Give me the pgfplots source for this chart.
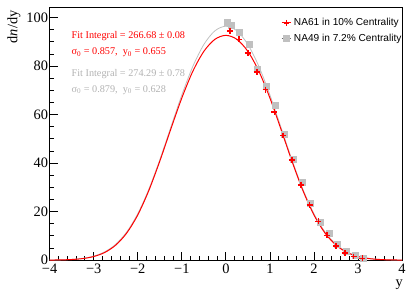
\documentclass[border=0pt]{standalone}
\usepackage{pgfplots}
\pgfplotsset{compat=1.18}
\usepackage{fontspec}
\setmainfont{Liberation Serif}
\newfontfamily\legfont{Liberation Sans}
\definecolor{rootred}{RGB}{255,0,0}
\definecolor{rootgray}{RGB}{192,192,192}
\definecolor{txtgray}{RGB}{178,178,178}
\begin{document}
\begin{tikzpicture}
\begin{axis}[
  scale only axis, width=355pt, height=254pt,
  xmin=-4, xmax=4, ymin=0, ymax=104,
  xtick={-4,-3,-2,-1,0,1,2,3,4},
  xticklabels={−4,−3,−2,−1,0,1,2,3,4},
  minor x tick num=4,
  ytick={0,20,40,60,80,100},
  yticklabels={0,20,40,60,80,100},
  minor y tick num=3,
  tick align=inside,
  xtick pos=lower, ytick pos=left,
  major tick length=8pt, minor tick length=4pt,
  tick style={black, line width=0.8pt},
  axis line style={line width=1pt},
  ticklabel style={font=\fontsize{14.5}{17}\selectfont},
  yticklabel style={inner xsep=1.5pt},
  legend style={at={(rel axis cs:0.656,0.967)}, anchor=north west, draw=none, fill=none,
    font=\legfont\fontsize{10.2}{12}\selectfont, row sep=3pt, inner sep=0pt},
  legend cell align=left,
  legend image code/.code={\draw[mark repeat=2,mark phase=2,#1] plot coordinates {(0pt,0pt)(5pt,0pt)(10pt,0pt)};},
]
\addplot[rootgray, line width=0.8pt, smooth, forget plot] coordinates {
(-4,0.040) (-3.75,0.113) (-3.5,0.299) (-3.25,0.728) (-3,1.64) (-2.75,3.42) (-2.5,6.55) (-2.25,11.63) (-2,19.13) (-1.75,29.17) (-1.5,41.38) (-1.25,54.81) (-1,68.11) (-0.75,79.87) (-0.5,88.92) (-0.25,94.55) (0,96.45) (0.25,94.55) (0.5,88.92) (0.75,79.87) (1,68.11) (1.25,54.81) (1.5,41.38) (1.75,29.17) (2,19.13) (2.25,11.63) (2.5,6.55) (2.75,3.42) (3,1.64) (3.25,0.728) (3.5,0.299) (3.75,0.113) (4,0.040)};
\addplot[rootgray, only marks, mark=square*, mark size=3pt, mark options={draw=rootgray, fill=rootgray, line width=0pt}, forget plot] coordinates {
(0.03,98.1) (0.13,96.7) (0.32,93.7) (0.53,88.8) (0.72,78.5) (0.93,71.5) (1.13,63.7) (1.33,51.8) (1.54,41.6) (1.74,32.0) (1.93,23.2) (2.14,15.7) (2.35,10.9) (2.53,6.4) (2.73,3.4) (2.95,1.8) (3.12,0.8)};
\addplot[rootred, line width=1pt, smooth, forget plot] coordinates {
(-4,0.031) (-3.75,0.091) (-3.5,0.251) (-3.25,0.634) (-3,1.48) (-2.75,3.15) (-2.5,6.19) (-2.25,11.18) (-2,18.62) (-1.75,28.65) (-1.5,40.80) (-1.25,54.03) (-1,66.86) (-0.75,77.88) (-0.5,86.09) (-0.25,91.05) (0,92.70) (0.25,91.05) (0.5,86.09) (0.75,77.88) (1,66.86) (1.25,54.03) (1.5,40.80) (1.75,28.65) (2,18.62) (2.25,11.18) (2.5,6.19) (2.75,3.15) (3,1.48) (3.25,0.634) (3.5,0.251) (3.75,0.091) (4,0.031)};
\addplot[only marks, mark=+, mark size=3pt, rootred, mark options={line width=1.6pt}, forget plot] coordinates {
(0.1,94.5) (0.3,91.0) (0.5,85.3) (0.7,77.5) (0.9,70.3) (1.1,61.0) (1.3,51.4) (1.5,41.2) (1.7,31.0) (1.9,22.8) (2.1,16.0) (2.3,10.2) (2.5,5.9) (2.7,3.0) (2.9,1.5) (3.1,0.7)};
\addlegendimage{rootred, line width=1pt, mark=+, mark size=3pt, mark options={line width=1.6pt}}
\addlegendentry{NA61 in 10\% Centrality}
\addlegendimage{black!60, line width=0.6pt, mark=square*, mark size=3pt, mark options={draw=rootgray, fill=rootgray, line width=0pt}}
\addlegendentry{NA49 in 7.2\% Centrality}
\node[anchor=base west, text=rootred, font=\fontsize{10.3}{12}\selectfont, inner sep=0pt] at (rel axis cs:0.062,0.878) {Fit Integral = 266.68 ± 0.08};
\node[anchor=base west, text=rootred, font=\fontsize{10.3}{12}\selectfont, inner sep=0pt] at (rel axis cs:0.062,0.815) {σ\textsubscript{0} = 0.857,\ \ y\textsubscript{0} = 0.655};
\node[anchor=base west, text=txtgray, font=\fontsize{10.3}{12}\selectfont, inner sep=0pt] at (rel axis cs:0.062,0.728) {Fit Integral = 274.29 ± 0.78};
\node[anchor=base west, text=txtgray, font=\fontsize{10.3}{12}\selectfont, inner sep=0pt] at (rel axis cs:0.062,0.665) {σ\textsubscript{0} = 0.879,\ \ y\textsubscript{0} = 0.628};
\end{axis}
\node[rotate=90, anchor=east, font=\fontsize{14.5}{17}\selectfont] at ([xshift=-36pt,yshift=1pt]current axis.north west) {d\textit{n}/dy};
\node[anchor=base east, font=\fontsize{14.5}{17}\selectfont, inner sep=0pt] at ([xshift=1pt,yshift=-27pt]current axis.south east) {y};
\path[use as bounding box] ([xshift=-50pt,yshift=-29pt]current axis.south west) rectangle ([xshift=4pt,yshift=8pt]current axis.north east);
\end{tikzpicture}
\end{document}
